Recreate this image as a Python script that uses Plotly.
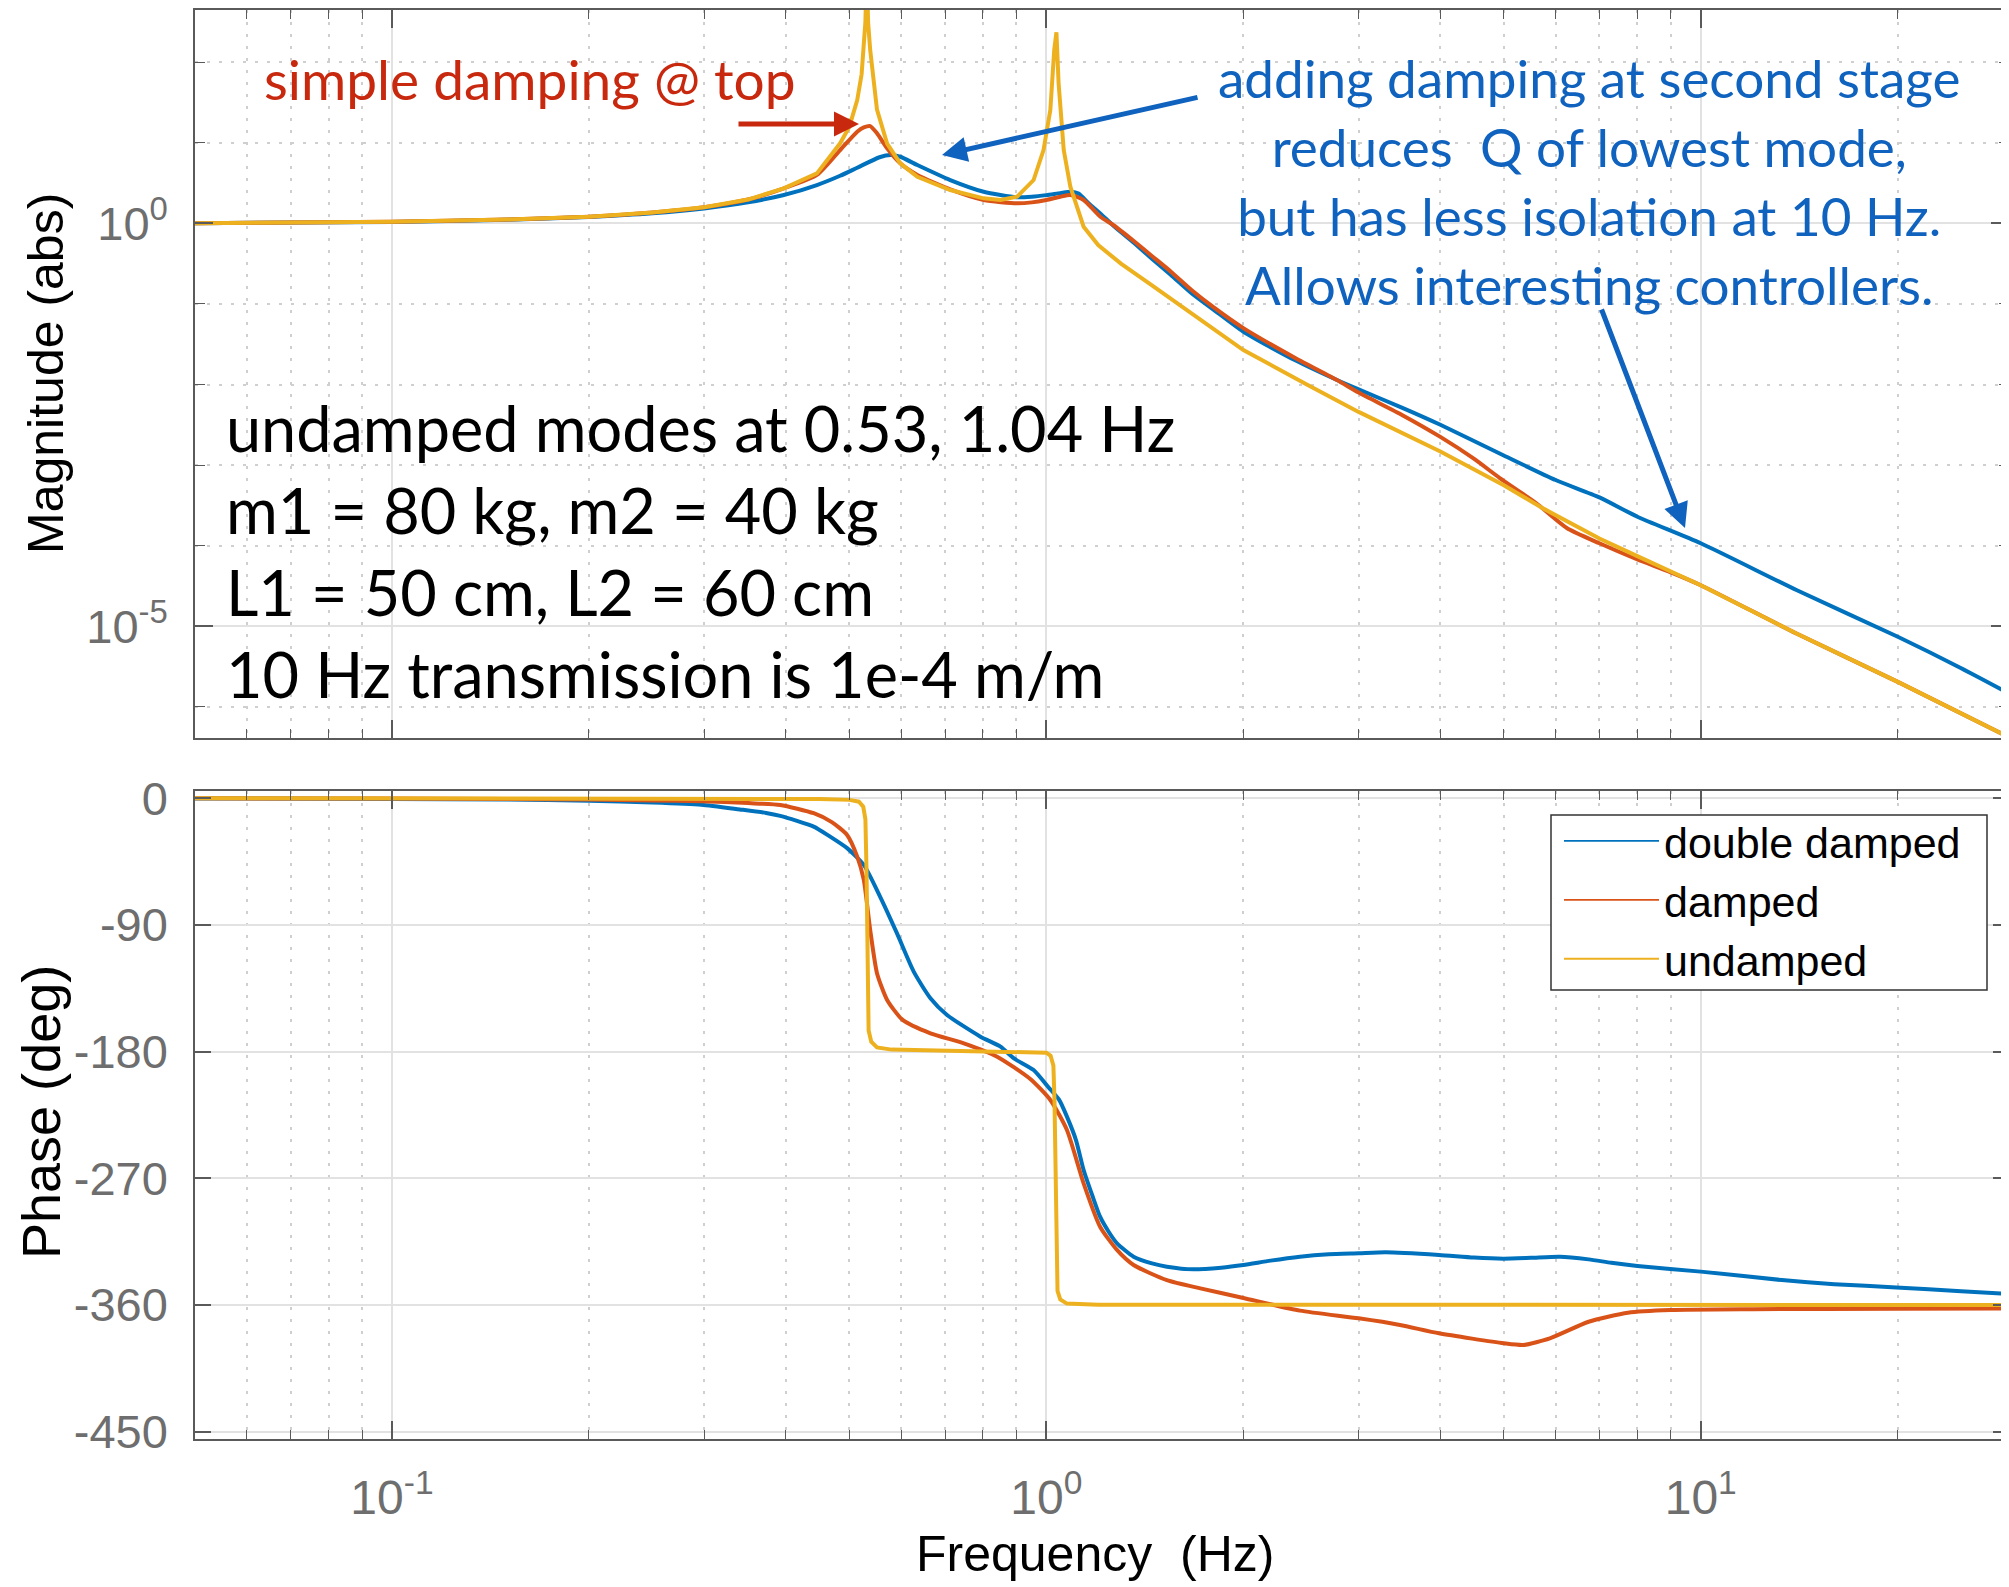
import plotly.graph_objects as go

# ---------------- data ----------------
series_names = ["double damped", "damped", "undamped"]
series_colors = ["#0072BD", "#D95319", "#EDB120"]

# Magnitude (log10 of |H|) for each series
freq_mag_dd = [0.05, 0.1, 0.15, 0.2, 0.25, 0.3, 0.35, 0.397, 0.446, 0.484, 0.514, 0.556, 0.578,
               0.598, 0.635, 0.713, 0.802, 0.9, 0.95, 1.0, 1.05, 1.09, 1.12, 1.16, 1.21, 1.27,
               1.36, 1.457, 1.55, 1.668, 1.8, 2.0, 2.4, 2.78, 3.0, 3.5, 4.0, 5.0, 6.0, 7.0, 8.0,
               10.0, 14.0, 20.0, 25.0, 30.0]
logmag_dd = [0.002, 0.018, 0.045, 0.08, 0.125, 0.185, 0.26, 0.351, 0.475, 0.59, 0.69, 0.82, 0.847,
             0.826, 0.723, 0.537, 0.392, 0.323, 0.33, 0.35, 0.375, 0.392, 0.37, 0.25, 0.12, -0.04,
             -0.24, -0.455, -0.64, -0.869, -1.07, -1.345, -1.70, -1.944, -2.06, -2.29, -2.50,
             -2.88, -3.185, -3.40, -3.64, -3.97, -4.55, -5.13, -5.52, -5.86]

freq_mag_d = [0.05, 0.1, 0.15, 0.2, 0.25, 0.3, 0.35, 0.397, 0.446, 0.484, 0.514, 0.526, 0.538,
              0.551, 0.571, 0.598, 0.635, 0.713, 0.802, 0.902, 0.95, 1.0, 1.05, 1.088, 1.14, 1.209,
              1.27, 1.36, 1.457, 1.55, 1.668, 1.8, 2.0, 2.4, 2.78, 3.0, 3.5, 4.0, 4.5, 4.93, 5.6,
              6.24, 7.0, 8.0, 9.0, 10.0, 14.0, 20.0, 30.0]
logmag_d = [0.002, 0.02, 0.047, 0.082, 0.135, 0.2, 0.295, 0.434, 0.60, 0.909, 1.137, 1.19, 1.207,
            1.117, 0.93, 0.744, 0.60, 0.42, 0.289, 0.248, 0.26, 0.29, 0.33, 0.351, 0.29, 0.082,
            -0.03, -0.22, -0.42, -0.60, -0.83, -1.04, -1.30, -1.67, -1.944, -2.10, -2.38, -2.65,
            -2.92, -3.16, -3.47, -3.78, -3.97, -4.17, -4.33, -4.49, -5.09, -5.69, -6.40]

freq_mag_u = [0.05, 0.1, 0.15, 0.2, 0.25, 0.3, 0.35, 0.397, 0.446, 0.484, 0.5, 0.514, 0.522,
              0.526, 0.529, 0.5315, 0.534, 0.538, 0.544, 0.551, 0.571, 0.598, 0.635, 0.713, 0.802,
              0.851, 0.902, 0.956, 0.99, 1.014, 1.028, 1.036, 1.044, 1.063, 1.088, 1.14, 1.2, 1.3,
              1.45, 1.67, 2.0, 2.5, 3.0, 4.0, 5.0, 5.75, 7.0, 8.0, 10.0, 14.0, 20.0, 30.0]
logmag_u = [0.002, 0.02, 0.047, 0.082, 0.135, 0.2, 0.295, 0.434, 0.62, 0.993, 1.2, 1.53, 1.85,
            2.15, 2.5, 3.2, 2.5, 2.15, 1.75, 1.41, 0.99, 0.744, 0.578, 0.413, 0.31,
            0.289, 0.33, 0.537, 0.909, 1.406, 2.15, 2.37, 1.737, 0.909, 0.454, -0.042, -0.27, -0.50,
            -0.77, -1.12, -1.572, -2.0, -2.34, -2.83, -3.25, -3.54, -3.91, -4.13, -4.49, -5.09,
            -5.69, -6.40]

# Phase (deg) for each series
freq_ph_dd = [0.05, 0.1, 0.15, 0.2, 0.25, 0.297, 0.34, 0.373, 0.392, 0.441, 0.466, 0.496, 0.526,
              0.557, 0.591, 0.627, 0.665, 0.705, 0.793, 0.851, 0.891, 0.956, 1.008, 1.045, 1.075,
              1.11, 1.14, 1.175, 1.208, 1.245, 1.282, 1.359, 1.45, 1.528, 1.679, 1.85, 2.0, 2.2,
              2.44, 2.7, 3.0, 3.3, 3.98, 4.5, 4.99, 5.5, 6.09, 6.74, 7.3, 8.0, 10.0, 13.3, 16.0,
              19.9, 25.0, 30.0]
phase_dd = [-0.2, -0.5, -1.0, -1.8, -3.0, -4.6, -8.0, -10.5, -12.6, -20.2, -27.0, -35.5, -47.4,
            -69.9, -95.9, -123.2, -142.1, -154.0, -169.4, -176.5, -184.7, -193.1, -205.5, -214.0,
            -226.2, -243.0, -264.1, -282.0, -297.3, -308.0, -316.2, -325.7, -330.5, -332.8, -334.7,
            -333.5, -331.6, -328.5, -325.7, -324.0, -323.3, -322.6, -324.5, -326.3, -327.1, -326.5,
            -325.7, -327.6, -330.0, -332.3, -336.3, -342.3, -345.2, -347.5, -350.3, -352.3]

freq_ph_d = [0.05, 0.1, 0.15, 0.2, 0.25, 0.297, 0.35, 0.392, 0.441, 0.47, 0.496, 0.514, 0.526,
             0.538, 0.551, 0.571, 0.603, 0.665, 0.748, 0.841, 0.945, 1.014, 1.075, 1.14, 1.208,
             1.282, 1.359, 1.528, 1.719, 2.0, 2.44, 3.0, 3.47, 3.98, 5.0, 5.36, 5.88, 6.74, 7.74,
             9.0, 12.0, 20.0, 30.0]
phase_d = [-0.1, -0.3, -0.6, -1.0, -1.6, -2.2, -3.5, -4.8, -10.7, -17.0, -26.1, -41.5, -58.1,
           -93.6, -124.3, -143.3, -157.5, -167.0, -174.1, -183.6, -199.5, -214.4, -235.7, -273.6,
           -304.4, -320.9, -331.6, -342.3, -348.2, -355.0, -364.0, -369.5, -374.2, -380.1, -387.2,
           -388.4, -383.7, -371.9, -365.5, -363.6, -363.0, -362.6, -362.4]

freq_ph_u = [0.05, 0.3, 0.45, 0.5, 0.517, 0.525, 0.529, 0.531, 0.532, 0.533, 0.535, 0.54, 0.551,
             0.58, 0.7, 0.9, 1.0, 1.015, 1.025, 1.029, 1.032, 1.035, 1.04, 1.05, 1.075, 1.2, 3.0,
             30.0]
phase_u = [0.0, -0.2, -0.6, -1.2, -2.5, -6.0, -15.0, -50.0, -90.0, -130.0, -165.0, -173.0, -177.0,
           -178.6, -179.5, -180.0, -180.8, -183.0, -190.0, -215.0, -270.0, -325.0, -350.0, -356.0,
           -359.0, -359.8, -360.0, -360.0]

mag_freqs = [freq_mag_dd, freq_mag_d, freq_mag_u]
mag_logs = [logmag_dd, logmag_d, logmag_u]
ph_freqs = [freq_ph_dd, freq_ph_d, freq_ph_u]
ph_vals = [phase_dd, phase_d, phase_u]
line_shapes = ["spline", "spline", "linear"]

# axis tick definitions
x_major = [0.1, 1, 10]
x_major_text = ["10<sup>-1</sup>", "10<sup>0</sup>", "10<sup>1</sup>"]
x_minor = [0.06, 0.07, 0.08, 0.09, 0.2, 0.3, 0.4, 0.5, 0.6, 0.7, 0.8, 0.9,
           2, 3, 4, 5, 6, 7, 8, 9, 20]
mag_major = [1e-5, 1]
mag_major_text = ["10<sup>-5</sup>", "10<sup>0</sup>"]
mag_minor = [1e-6, 1e-4, 1e-3, 1e-2, 1e-1, 10, 100]
phase_ticks = [-450, -360, -270, -180, -90, 0]
phase_text = ["-450", "-360", "-270", "-180", "-90", "0"]

# ---------------- layout geometry ----------------
PAGE_W, PAGE_H = 2009, 1587
OFF = 8                      # page body margin in front of the figure
W, H = PAGE_W - OFF, PAGE_H - OFF
L, R, T = 195 - OFF, 0, 10 - OFF
B = H - (1439 - OFF)
PW, PH = W - L - R, H - T - B


def px(x):
    """page pixel x -> paper coordinate"""
    return (x - OFF - L) / PW


def py(y):
    """page pixel y -> paper coordinate"""
    return (H - B - (y - OFF)) / PH


AX_FONT = "Liberation Sans, Arial, sans-serif"
NOTE_FONT = "Lato, Open Sans, sans-serif"
TICK_COLOR = "#6e6e6e"
LINE_COLOR = "#5a5a5a"
GRID_MAJOR = "#e2e2e2"
GRID_MINOR = "#cfcfcf"
MINOR_DASH = "3px,9px"

fig = go.Figure()

for name, color, fx, lm, shp in zip(series_names, series_colors, mag_freqs, mag_logs, line_shapes):
    fig.add_trace(go.Scatter(x=fx, y=[10 ** v for v in lm], mode="lines", name=name,
                             line=dict(color=color, width=4, shape=shp, smoothing=0.6),
                             showlegend=False, xaxis="x", yaxis="y", hoverinfo="skip"))

for name, color, fx, ph, shp in zip(series_names, series_colors, ph_freqs, ph_vals, line_shapes):
    fig.add_trace(go.Scatter(x=fx, y=ph, mode="lines", name=name,
                             line=dict(color=color, width=4, shape=shp, smoothing=0.6),
                             showlegend=False, xaxis="x2", yaxis="y2", hoverinfo="skip"))

# legend entries (thin lines as in the reference)
for name, color in zip(series_names, series_colors):
    fig.add_trace(go.Scatter(x=[None], y=[None], mode="lines", name=name,
                             line=dict(color=color, width=1.8), showlegend=True,
                             xaxis="x2", yaxis="y2"))

common_x = dict(
    type="log", range=[-1.301, 1.471], showline=True, linecolor=LINE_COLOR, linewidth=1.5,
    mirror="ticks", ticks="inside", ticklen=18, tickwidth=1.5, tickcolor=LINE_COLOR,
    tickmode="array", tickvals=x_major, showgrid=True, gridcolor=GRID_MAJOR, gridwidth=1.5,
    zeroline=False, automargin=False,
    minor=dict(tickmode="array", tickvals=x_minor, ticks="inside", ticklen=9,
               tickcolor=LINE_COLOR, tickwidth=1.2, showgrid=True, gridcolor=GRID_MINOR,
               griddash=MINOR_DASH, gridwidth=1.5),
)

fig.update_layout(
    width=W, height=H,
    margin=dict(l=L, r=R, t=T, b=B, autoexpand=False),
    paper_bgcolor="white", plot_bgcolor="white",
    xaxis=dict(common_x, domain=[0, 1], anchor="y", showticklabels=False),
    xaxis2=dict(common_x, domain=[0, 1], anchor="y2", matches="x", showticklabels=True,
                ticktext=x_major_text, ticklabelstandoff=16,
                tickfont=dict(family=AX_FONT, size=48, color=TICK_COLOR)),
    yaxis=dict(type="log", domain=[py(738), 1.0], range=[-6.386, 2.647], anchor="x",
               showline=True, linecolor=LINE_COLOR, linewidth=1.5, mirror="ticks",
               ticks="inside", ticklen=18, tickwidth=1.5, tickcolor=LINE_COLOR,
               tickmode="array", tickvals=mag_major, ticktext=mag_major_text,
               ticklabelstandoff=16, automargin=False,
               tickfont=dict(family=AX_FONT, size=47, color=TICK_COLOR),
               showgrid=True, gridcolor=GRID_MAJOR, gridwidth=1.5, zeroline=False,
               minor=dict(tickmode="array", tickvals=mag_minor, ticks="inside", ticklen=10,
                          tickcolor=LINE_COLOR, tickwidth=1.2, showgrid=True,
                          gridcolor=GRID_MINOR, griddash=MINOR_DASH, gridwidth=1.5)),
    yaxis2=dict(domain=[0, py(791)], range=[-455.2, 5.1], anchor="x2",
                showline=True, linecolor=LINE_COLOR, linewidth=1.5, mirror="ticks",
                ticks="inside", ticklen=16, tickwidth=1.5, tickcolor=LINE_COLOR,
                tickmode="array", tickvals=phase_ticks, ticktext=phase_text,
                ticklabelstandoff=16, automargin=False,
                tickfont=dict(family=AX_FONT, size=47, color=TICK_COLOR),
                showgrid=True, gridcolor=GRID_MAJOR, gridwidth=1.5, zeroline=False),
    legend=dict(x=px(1559), y=py(900), xanchor="left", yanchor="middle",
                bgcolor="rgba(0,0,0,0)", borderwidth=0,
                font=dict(family=AX_FONT, size=43, color="black"),
                itemwidth=95, tracegroupgap=0),
    showlegend=True,
    shapes=[dict(type="rect", xref="paper", yref="paper", layer="above",
                 x0=px(1551), x1=px(1987), y0=py(990), y1=py(815),
                 fillcolor="white", line=dict(color="#333333", width=1.5))],
)

annotations = [
    # axis titles
    dict(text="Magnitude (abs)", x=px(46), y=py(374), textangle=-90,
         font=dict(family=AX_FONT, size=50, color="black")),
    dict(text="Phase (deg)", x=px(41), y=py(1112), textangle=-90,
         font=dict(family=AX_FONT, size=54, color="black")),
    dict(text="Frequency\u00a0 (Hz)", x=px(1095), y=py(1554),
         font=dict(family=AX_FONT, size=50, color="black")),
    # notes
    dict(text="undamped modes at 0.53, 1.04 Hz<br>m1 = 80 kg, m2 = 40 kg<br>"
              "L1 = 50 cm, L2 = 60 cm<br>10 Hz transmission is 1e-4 m/m",
         x=px(224), y=py(550), xanchor="left", align="left",
         font=dict(family=NOTE_FONT, size=63, color="black")),
    dict(text="simple damping @ top", x=px(530), y=py(79),
         font=dict(family=NOTE_FONT, size=55, color="#C8290E")),
    dict(text="adding damping at second stage<br>reduces\u00a0 Q of lowest mode,<br>"
              "but has less isolation at 10 Hz.<br>Allows interesting controllers.",
         x=px(1589), y=py(181), align="center",
         font=dict(family=NOTE_FONT, size=53, color="#0F62BE")),
]
for a in annotations:
    a.update(xref="paper", yref="paper", showarrow=False)
    a.setdefault("xanchor", "center")
    a.setdefault("yanchor", "middle")

arrows = [
    # (head_x, head_y, tail_x, tail_y, color) in page pixels
    (859, 124, 737, 124, "#C8290E"),
    (942, 155, 1199, 97, "#0F62BE"),
    (1685, 528, 1601, 308, "#0F62BE"),
]
for hx, hy, tx, ty, c in arrows:
    annotations.append(dict(text="", x=px(hx), y=py(hy), xref="paper", yref="paper",
                            ax=tx - hx, ay=ty - hy, showarrow=True, arrowhead=2,
                            arrowsize=1, arrowwidth=5, arrowcolor=c, standoff=0))

fig.update_layout(annotations=annotations)

fig.write_html("out.html")
